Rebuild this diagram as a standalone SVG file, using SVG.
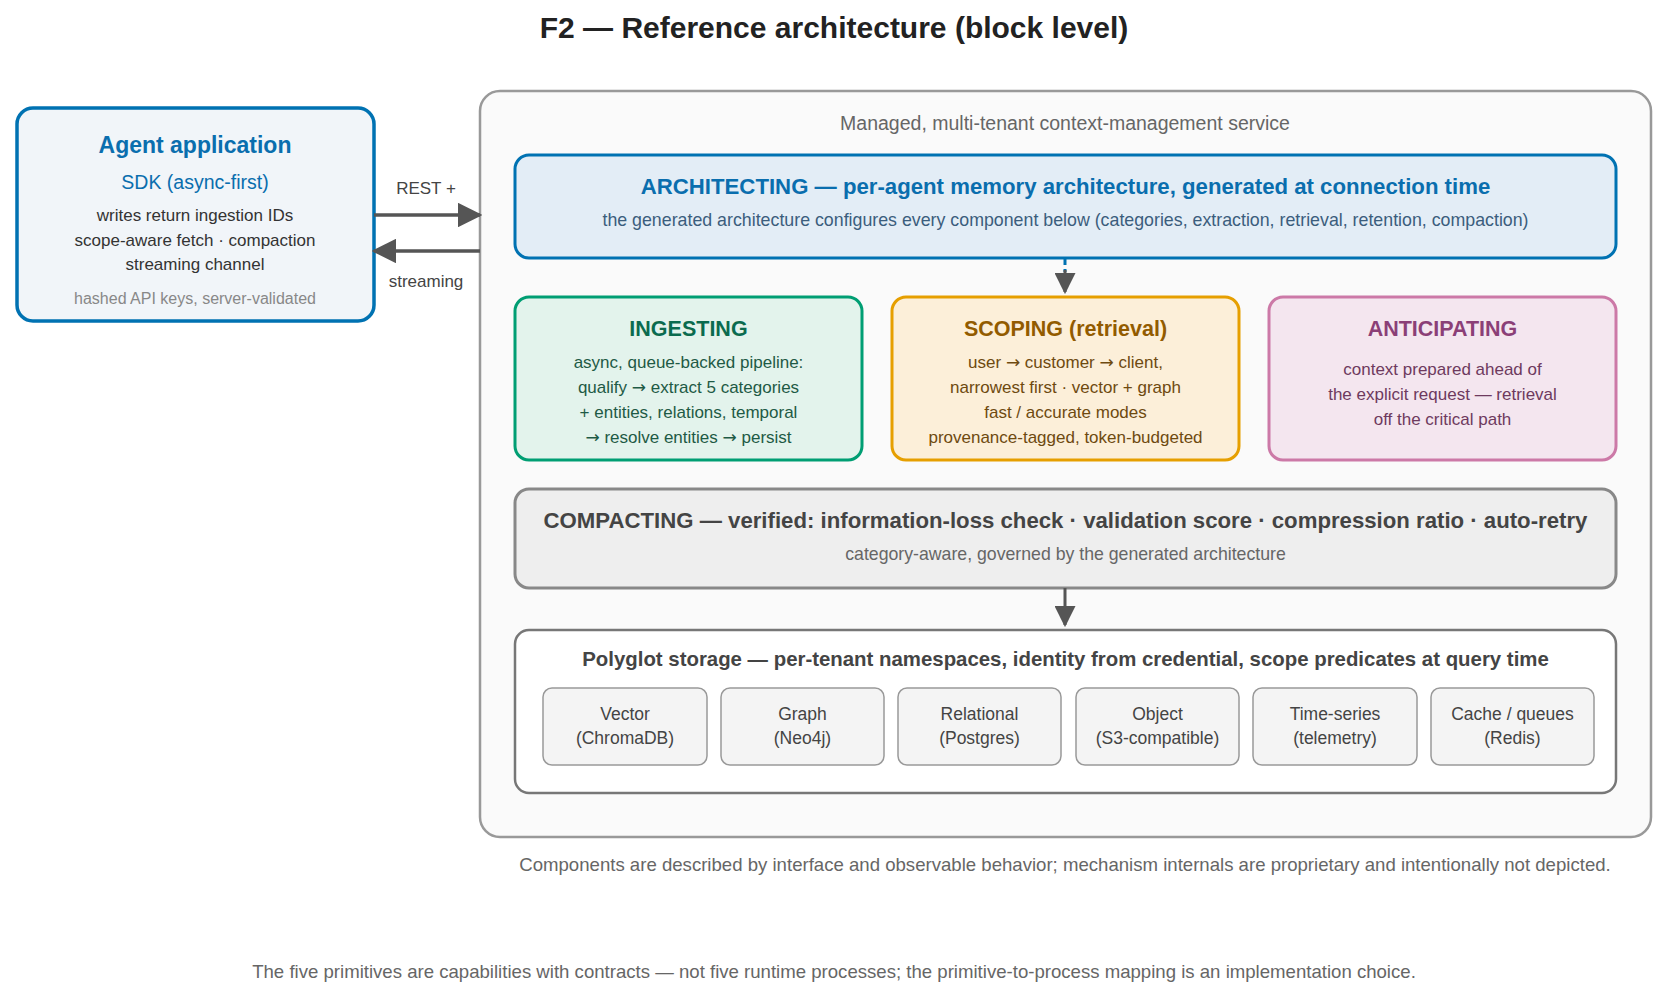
<svg xmlns="http://www.w3.org/2000/svg" width="1669" height="1000" viewBox="0 0 1669 1000">
<style>
text{font-family:"Liberation Sans",Arial,sans-serif;text-anchor:middle}
.ar{font-family:"DejaVu Sans",sans-serif}
.title{font-size:30px;font-weight:bold;fill:#222}
.note{font-size:18.6px;fill:#666}
.lbl{font-size:17px;fill:#444}
.body{font-size:17px}
.h{font-size:21.5px;font-weight:bold}
.store rect{fill:#f4f4f4;stroke:#999;stroke-width:1.5}
.store text{font-size:17.5px;fill:#444}
</style>
<defs>
<marker id="ah2" viewBox="0 0 10 10" refX="9" refY="5" markerWidth="7" markerHeight="7" orient="auto"><path d="M0,0L10,5L0,10z" fill="#555"/></marker>
</defs>
<rect width="1669" height="1000" fill="#fff"/>
<text class="title" x="834" y="38">F2 — Reference architecture (block level)</text>

<g id="service">
<rect x="480" y="91" width="1171" height="746" rx="20" fill="#fafafa" stroke="#999" stroke-width="2.5"/>
<text x="1065" y="130" style="font-size:19.5px;fill:#666">Managed, multi-tenant context-management service</text>
</g>

<g id="agent">
<rect x="17" y="108" width="357" height="213" rx="16" fill="#f1f5f9" stroke="#0072B2" stroke-width="3.5"/>
<text x="195" y="153" style="font-size:23px;font-weight:bold;fill:#0a6eae">Agent application</text>
<text x="195" y="189" style="font-size:19.5px;fill:#0a6eae">SDK (async-first)</text>
<text x="195" y="221" class="body" style="fill:#333">writes return ingestion IDs</text>
<text x="195" y="246" class="body" style="fill:#333">scope-aware fetch · compaction</text>
<text x="195" y="270" class="body" style="fill:#333">streaming channel</text>
<text x="195" y="304" style="font-size:16px;fill:#888">hashed API keys, server-validated</text>
</g>

<g id="architecting">
<rect x="515" y="155" width="1101" height="103" rx="14" fill="#e3edf6" stroke="#0072B2" stroke-width="3"/>
<text x="1065.5" y="194" style="font-size:22.2px;font-weight:bold;fill:#0a6eae">ARCHITECTING — per-agent memory architecture, generated at connection time</text>
<text x="1065.5" y="226" style="font-size:17.8px;fill:#3b5d7d">the generated architecture configures every component below (categories, extraction, retrieval, retention, compaction)</text>
</g>

<g id="ingesting">
<rect x="515" y="297" width="347" height="163" rx="14" fill="#e3f3ec" stroke="#009E73" stroke-width="3"/>
<text x="688.5" y="336" class="h" style="fill:#0b6b4f">INGESTING</text>
<text x="688.5" y="368" class="body" style="fill:#1e5a45">async, queue-backed pipeline:</text>
<text x="688.5" y="393" class="body" style="fill:#1e5a45">qualify <tspan class="ar">→</tspan> extract 5 categories</text>
<text x="688.5" y="418" class="body" style="fill:#1e5a45">+ entities, relations, temporal</text>
<text x="688.5" y="443" class="body" style="fill:#1e5a45"><tspan class="ar">→</tspan> resolve entities <tspan class="ar">→</tspan> persist</text>
</g>

<g id="scoping">
<rect x="892" y="297" width="347" height="163" rx="14" fill="#fcefd9" stroke="#E69F00" stroke-width="3"/>
<text x="1065.5" y="336" class="h" style="fill:#925b00">SCOPING (retrieval)</text>
<text x="1065.5" y="368" class="body" style="fill:#6e4a10">user <tspan class="ar">→</tspan> customer <tspan class="ar">→</tspan> client,</text>
<text x="1065.5" y="393" class="body" style="fill:#6e4a10">narrowest first · vector + graph</text>
<text x="1065.5" y="418" class="body" style="fill:#6e4a10">fast / accurate modes</text>
<text x="1065.5" y="443" class="body" style="fill:#6e4a10">provenance-tagged, token-budgeted</text>
</g>

<g id="anticipating">
<rect x="1269" y="297" width="347" height="163" rx="14" fill="#f4e6ef" stroke="#CC79A7" stroke-width="3"/>
<text x="1442.5" y="336" class="h" style="fill:#8b3f77">ANTICIPATING</text>
<text x="1442.5" y="375" class="body" style="fill:#6e3a5e">context prepared ahead of</text>
<text x="1442.5" y="400" class="body" style="fill:#6e3a5e">the explicit request — retrieval</text>
<text x="1442.5" y="425" class="body" style="fill:#6e3a5e">off the critical path</text>
</g>

<g id="compacting">
<rect x="515" y="489" width="1101" height="99" rx="14" fill="#eeeeee" stroke="#888" stroke-width="3"/>
<text x="1065.5" y="528" style="font-size:22.2px;font-weight:bold;fill:#444">COMPACTING — verified: information-loss check · validation score · compression ratio · auto-retry</text>
<text x="1065.5" y="560" style="font-size:17.7px;fill:#666">category-aware, governed by the generated architecture</text>
</g>

<g id="storage">
<rect x="515" y="630" width="1101" height="163" rx="14" fill="#fff" stroke="#777" stroke-width="2.5"/>
<text x="1065.5" y="666" style="font-size:20.4px;font-weight:bold;fill:#444">Polyglot storage — per-tenant namespaces, identity from credential, scope predicates at query time</text>
</g>
<g id="store-vector" class="store"><rect x="543" y="688" width="164" height="77" rx="9"/><text x="625" y="720">Vector</text><text x="625" y="744">(ChromaDB)</text></g>
<g id="store-graph" class="store"><rect x="721" y="688" width="163" height="77" rx="9"/><text x="802.5" y="720">Graph</text><text x="802.5" y="744">(Neo4j)</text></g>
<g id="store-relational" class="store"><rect x="898" y="688" width="163" height="77" rx="9"/><text x="979.5" y="720">Relational</text><text x="979.5" y="744">(Postgres)</text></g>
<g id="store-object" class="store"><rect x="1076" y="688" width="163" height="77" rx="9"/><text x="1157.5" y="720">Object</text><text x="1157.5" y="744">(S3-compatible)</text></g>
<g id="store-timeseries" class="store"><rect x="1253" y="688" width="164" height="77" rx="9"/><text x="1335" y="720">Time-series</text><text x="1335" y="744">(telemetry)</text></g>
<g id="store-cache" class="store"><rect x="1431" y="688" width="163" height="77" rx="9"/><text x="1512.5" y="720">Cache / queues</text><text x="1512.5" y="744">(Redis)</text></g>

<g id="connectors">
<line x1="374" y1="215" x2="480" y2="215" stroke="#555" stroke-width="3.5" marker-end="url(#ah2)"/>
<line x1="480" y1="251" x2="374" y2="251" stroke="#555" stroke-width="3.5" marker-end="url(#ah2)"/>
<text x="426" y="194" class="lbl">REST +</text>
<text x="426" y="287" class="lbl">streaming</text>
<line x1="1065" y1="258" x2="1065" y2="272" stroke="#0072B2" stroke-width="3" stroke-dasharray="7 4"/>
<line x1="1065" y1="270" x2="1065" y2="292" stroke="#555" stroke-width="3" marker-end="url(#ah2)"/>
<line x1="1065" y1="588" x2="1065" y2="625" stroke="#555" stroke-width="3" marker-end="url(#ah2)"/>
</g>

<text x="1065" y="871" class="note">Components are described by interface and observable behavior; mechanism internals are proprietary and intentionally not depicted.</text>
<text x="834" y="978" class="note">The five primitives are capabilities with contracts — not five runtime processes; the primitive-to-process mapping is an implementation choice.</text>
</svg>
